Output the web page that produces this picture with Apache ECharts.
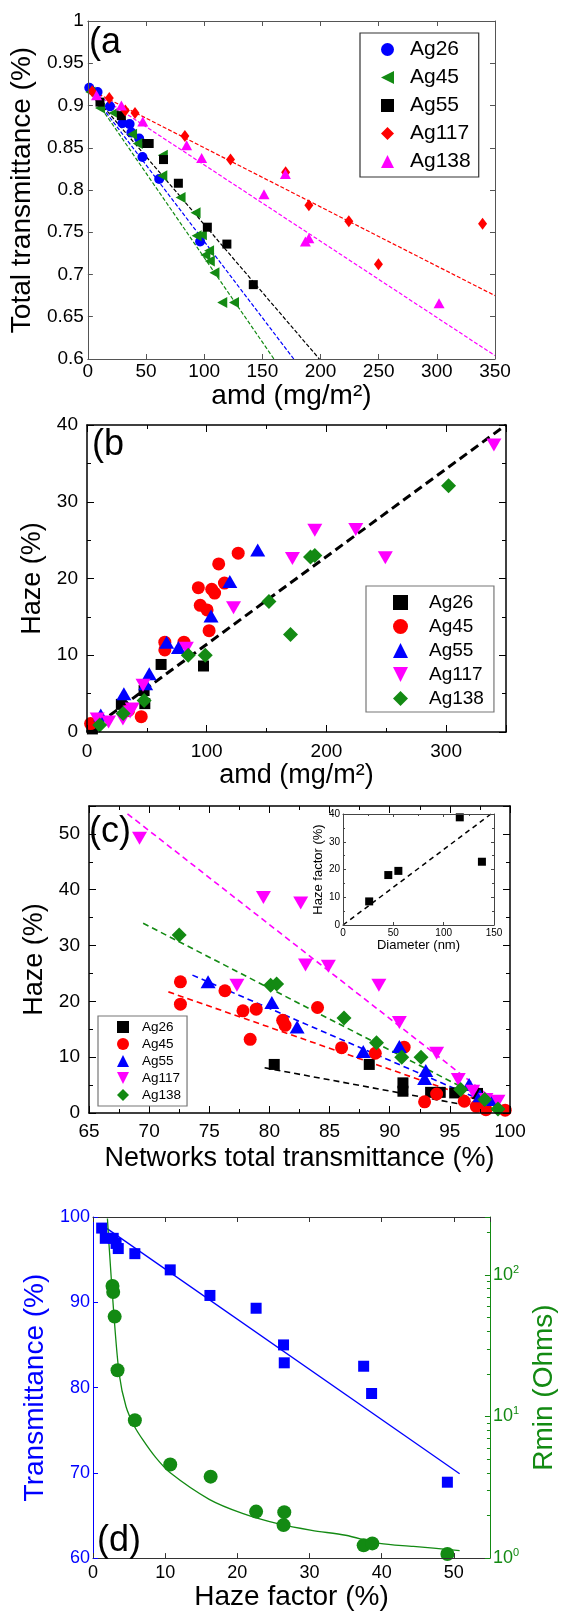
<!DOCTYPE html>
<html><head><meta charset="utf-8">
<script src="https://cdn.jsdelivr.net/npm/echarts@6/dist/echarts.min.js"></script>
<style>html,body{margin:0;padding:0;background:#fff}#c{width:566px;height:1612px}</style>
</head><body><div id="c"></div>
<script>
// ---------------- Panel (a): [amd (mg/m²), total transmittance] ----------------
const a_Ag26  = [[1.2,0.921],[8.3,0.916],[19,0.899],[29.7,0.879],[35.9,0.878],[37.4,0.868],[44.1,0.861],[46.9,0.839],[61.3,0.813],[96.5,0.739]];
const a_Ag45  = [[2.1,0.916],[10.4,0.897],[22.1,0.891],[38,0.866],[42.9,0.855],[64.4,0.841],[64,0.817],[79.7,0.791],[92.6,0.773],[93.5,0.746],[98,0.747],[101,0.723],[104.2,0.728],[104.8,0.716],[108.8,0.702],[115.5,0.667],[125.6,0.667]];
const a_Ag55  = [[10.4,0.904],[28.8,0.888],[50.6,0.855],[52.7,0.855],[65,0.836],[77.8,0.808],[102.7,0.756],[119.5,0.736],[142.2,0.688]];
const a_Ag117 = [[3.7,0.917],[18.4,0.909],[32.2,0.894],[40.5,0.891],[83.4,0.864],[122.6,0.836],[170,0.821],[190,0.782],[224.3,0.763],[249.8,0.712],[339.3,0.760]];
const a_Ag138 = [[7.4,0.912],[28.8,0.900],[47.2,0.881],[84.9,0.853],[97.8,0.838],[151.4,0.795],[169.8,0.819],[187,0.739],[190,0.743],[301.9,0.666]];
const a_fit26  = [[0,0.92],[177,0.6]];
const a_fit45  = [[0,0.92],[160,0.6]];
const a_fit55  = [[0,0.92],[199,0.6]];
const a_fit117 = [[0,0.92],[350,0.675]];
const a_fit138 = [[0,0.92],[350,0.604]];

// ---------------- Panel (b): [amd (mg/m²), haze %] ----------------
const b_Ag26  = [[4.5,0.4],[28.7,3.6],[47.7,5.4],[48.3,3.7],[61.9,8.8],[97.3,8.6]];
const b_Ag45  = [[3,1.1],[34.7,2.8],[45.3,2.0],[65,11.7],[65,10.7],[81,11.7],[93,18.8],[94.6,16.5],[100.3,15.9],[102,13.2],[104.2,18.6],[106.6,18.1],[110,21.9],[114.8,19.4],[126.3,23.3]];
const b_Ag55  = [[11.5,2.2],[30.8,5.0],[49,6.3],[52,7.6],[66.5,11.7],[76.4,11.0],[103.6,15.1],[119.3,19.6],[142.6,23.7]];
const b_Ag117 = [[8.5,1.7],[18,1.3],[30,1.7],[36,2.6],[37.8,3.0],[46.8,6.1],[83,10.9],[122.4,16.2],[171.6,22.6],[190.3,26.3],[224.5,26.4],[249.2,22.7],[339.9,37.4]];
const b_Ag138 = [[10.6,0.9],[30.2,2.4],[47.7,4.1],[84.6,10.0],[98.8,10.0],[152,17.0],[170,12.7],[186.7,22.8],[190.3,23.0],[302,32.1]];
const b_fit   = [[0,0],[350,40]];

// ---------------- Panel (c): [networks total transmittance %, haze %] ----------------
const c_Ag26  = [[80.4,8.7],[88.3,8.7],[91.1,5.4],[91.1,3.9],[93.4,3.7],[94.2,3.7],[95.4,3.6],[97.3,3.5]];
const c_Ag45  = [[72.6,23.5],[72.6,19.5],[76.3,21.9],[77.8,18.3],[78.9,18.6],[78.4,13.2],[81.1,16.6],[81.3,15.7],[84,18.9],[86,11.7],[88.8,10.7],[91.2,11.8],[92.9,2.0],[93.9,3.4],[96.2,2.1],[97.2,1.2],[98,0.6],[99.6,0.5]];
const c_Ag55  = [[74.9,23.5],[80.2,19.8],[82.3,15.4],[87.8,11.0],[90.8,11.9],[93,7.6],[92.9,6.2],[96.6,5.1],[97.5,3.1],[98.4,2.4]];
const c_Ag117 = [[69.2,49.2],[77.3,22.9],[79.5,38.6],[82.6,37.6],[83,26.5],[84.9,26.3],[89.1,22.9],[90.8,16.2],[93.9,10.7],[95.7,6.0],[96.9,3.9],[98,2.4],[99,2.1]];
const c_Ag138 = [[72.5,31.9],[80.1,22.9],[80.6,23.1],[86.2,17.0],[88.9,12.6],[91,10.0],[92.6,10.0],[95.9,4.2],[97.9,2.4],[99,0.7]];
const c_fit26  = [[79.6,8.1],[99.1,0.3]];
const c_fit45  = [[71.6,21.7],[100,0.3]];
const c_fit55  = [[73.6,24.7],[100,0.1]];
const c_fit117 = [[68.2,53.6],[100,0.1]];
const c_fit138 = [[69.5,34.0],[100,0.2]];
// inset: [diameter nm, haze factor %]
const inset_pts = [[26,8.5],[45,18],[55,19.5],[116,38.8],[138,22.8]];
const inset_fit = [[0,0],[147,40]];

// ---------------- Panel (d): haze factor % vs transmittance % and Rmin (Ohms) ----------------
const d_trans = [[1.2,98.7],[1.7,97.5],[2.8,97.5],[3.2,96.9],[3.5,96.3],[5.8,95.7],[10.7,93.8],[16.2,90.8],[22.6,89.3],[26.4,85.0],[26.5,82.9],[37.5,82.5],[38.6,79.3],[49.1,68.9]];
const d_transFit = [[1.5,98.9],[50.8,69.9]];
const d_rmin = [[2.7,83.4],[2.8,75.7],[3.0,50.7],[3.4,21.2],[5.8,9.4],[10.7,4.58],[16.3,3.76],[22.6,2.13],[26.5,2.11],[26.4,1.71],[37.5,1.23],[38.7,1.27],[49.1,1.07]];
const d_rminFit = [[2.0,250],[2.2,169],[2.83,58],[3.63,19.9],[4.58,11.7],[5.75,8.5],[6.94,6.8],[8.6,5.2],[10.7,4.0],[16.1,2.6],[20.8,2.06],[25.6,1.75],[30.3,1.57],[35,1.45],[39.7,1.27],[44.4,1.21],[50.8,1.13]];

const names = ['Ag26','Ag45','Ag55','Ag117','Ag138'];

const FF = "'Liberation Sans', Arial, Helvetica, sans-serif";
const LEFT_TRI = 'path://M0,5L10,0L10,10Z';
const DOWN_TRI = 'path://M0,0L10,0L5,10Z';
const BLUE='#0000ff', GREEN='#138a13', RED='#ff0000', MAG='#ff00ff', BLACK='#000000';

function ax(o){
  return {
    type: o.type || 'value', gridIndex: o.g, position: o.pos,
    min: o.min, max: o.max, interval: o.interval, logBase: o.logBase,
    name: o.name || '', nameLocation: 'middle', nameGap: o.nameGap || 0, nameRotate: o.nameRotate,
    nameTextStyle: {fontSize: o.nameSize || 27, fontFamily: FF, color: o.nameColor || '#000'},
    axisLine: {show: true, onZero: false, lineStyle: {color: o.lc || '#000', width: o.lw || 1}},
    axisTick: {show: true, inside: true, length: o.tl || 5, lineStyle: {color: o.tc || o.lc || '#000', width: 1}},
    minorTick: {show: !!o.minor, splitNumber: o.minor || 5, length: o.mtl || 3, lineStyle: {color: o.tc || o.lc || '#000', width: 1}},
    splitLine: {show: false}, minorSplitLine: {show: false},
    axisLabel: {show: o.label !== false, fontSize: o.fs || 19, fontFamily: FF, color: o.labColor || '#000', margin: o.margin || 4,
      formatter: o.formatter, rich: o.rich, showMinLabel: true, showMaxLabel: o.noMax ? false : true},
    z: 5
  };
}

const grids = [
  {left: 82, top: 21, width: 413, height: 338},
  {left: 87, top: 425, width: 419, height: 307},
  {left: 89, top: 806, width: 421, height: 307},
  {left: 343, top: 814, width: 151, height: 111},
  {left: 93, top: 1217, width: 421, height: 346}
];

const GA = '#555';
const xAxes = [
  ax({g:0,pos:'bottom',min:0,max:350,interval:50,lc:GA,tl:5,fs:19,margin:3,name:'amd (mg/m²)',nameGap:23,nameSize:28}),
  ax({g:0,pos:'top',min:0,max:350,interval:50,lc:GA,tl:5,label:false}),
  ax({g:1,pos:'bottom',min:0,max:350,interval:100,lw:1.5,tl:7,minor:2,mtl:4,fs:19,margin:10,noMax:true,name:'amd (mg/m²)',nameGap:30}),
  ax({g:1,pos:'top',min:0,max:350,interval:100,lw:1.5,tl:7,minor:2,mtl:4,label:false}),
  ax({g:2,pos:'bottom',min:65,max:100,interval:5,lw:1.5,tl:7,minor:2,mtl:4,fs:19,margin:9,name:'Networks total transmittance (%)',nameGap:32}),
  ax({g:2,pos:'top',min:65,max:100,interval:5,lw:1.5,tl:7,minor:2,mtl:4,label:false}),
  ax({g:3,pos:'bottom',min:0,max:150,interval:50,lc:'#444',tl:3,fs:10,margin:3,name:'Diameter (nm)',nameGap:13,nameSize:13}),
  ax({g:3,pos:'top',min:0,max:150,interval:50,lc:'#444',tl:3,minor:2,mtl:2,label:false}),
  ax({g:4,pos:'bottom',min:0,max:55,interval:10,lc:'#333',tl:5,fs:18,margin:6,noMax:true,name:'Haze factor (%)',nameGap:19,nameSize:28}),
  ax({g:4,pos:'top',min:0,max:55,interval:10,lc:'#333',tl:5,label:false})
];
const yAxes = [
  ax({g:0,pos:'left',min:0.6,max:1,interval:0.05,lc:GA,tl:5,fs:19,margin:4,name:'Total transmittance (%)',nameGap:44,nameSize:28}),
  ax({g:0,pos:'right',min:0.6,max:1,interval:0.05,lc:GA,tl:5,label:false}),
  ax({g:1,pos:'left',min:0,max:40,interval:10,lw:1.5,tl:7,minor:2,mtl:4,fs:19,margin:9,name:'Haze (%)',nameGap:36}),
  ax({g:1,pos:'right',min:0,max:40,interval:10,lw:1.5,tl:7,minor:2,mtl:4,label:false}),
  ax({g:2,pos:'left',min:0,max:55,interval:10,lw:1.5,tl:7,minor:2,mtl:4,fs:19,margin:9,noMax:true,name:'Haze (%)',nameGap:36}),
  ax({g:2,pos:'right',min:0,max:55,interval:10,lw:1.5,tl:7,minor:2,mtl:4,label:false}),
  ax({g:3,pos:'left',min:0,max:40,interval:10,lc:'#444',tl:3,minor:2,mtl:2,fs:10,margin:3,name:'Haze factor (%)',nameGap:16,nameSize:13}),
  ax({g:3,pos:'right',min:0,max:40,interval:10,lc:'#444',tl:3,minor:2,mtl:2,label:false}),
  ax({g:4,pos:'left',min:60,max:100,interval:10,lc:BLUE,tl:5,fs:18,margin:3,labColor:BLUE,name:'Transmittance (%)',nameGap:44,nameSize:28,nameColor:BLUE}),
  ax({g:4,pos:'right',type:'log',logBase:10,min:1,max:256,lc:GREEN,tl:5,minor:9,mtl:3,fs:18,margin:3,labColor:GREEN,
      name:'Rmin (Ohms)',nameGap:24,nameSize:28,nameColor:GREEN,nameRotate:90,
      formatter: v => { const e = Math.round(Math.log10(v)); if (Math.abs(Math.pow(10,e)-v) > 1e-6) return ''; return '{b|10}{s|' + e + '}'; },
      rich: {b:{fontSize:18,fontFamily:FF,color:GREEN}, s:{fontSize:11,fontFamily:FF,color:GREEN,verticalAlign:'top',padding:[0,0,10,0]}}})
];

function sc(name, data, gi, yi, symbol, size, color, z){
  return {name, type:'scatter', xAxisIndex:gi, yAxisIndex:yi, data, symbol, symbolSize:size, itemStyle:{color, opacity:1}, z: z||3, silent:true};
}
function fit(data, xi, yi, color, width, dash){
  return {type:'line', xAxisIndex:xi, yAxisIndex:yi, data, symbol:'none', showSymbol:false, silent:true, z:2,
    lineStyle:{color, width, type: dash || 'solid'}};
}

const series = [
  // (a)
  fit(a_fit45,0,0,GREEN,1.2,[4,2]), fit(a_fit26,0,0,BLUE,1.2,[4,2]), fit(a_fit55,0,0,BLACK,1.2,[4,2]),
  fit(a_fit117,0,0,RED,1.2,[4,2]), fit(a_fit138,0,0,MAG,1.2,[4,2]),
  sc('a:Ag26', a_Ag26, 0,0,'circle',10,BLUE),
  sc('a:Ag45', a_Ag45, 0,0,LEFT_TRI,[10,11],GREEN),
  sc('a:Ag55', a_Ag55, 0,0,'rect',9,BLACK),
  sc('a:Ag117',a_Ag117,0,0,'diamond',[9,12],RED),
  sc('a:Ag138',a_Ag138,0,0,'triangle',[11,10],MAG),
  // (b)
  fit(b_fit,2,2,BLACK,3,[9,5]),
  sc('b:Ag26', b_Ag26, 2,2,'rect',11,BLACK),
  sc('b:Ag45', b_Ag45, 2,2,'circle',13,RED),
  sc('b:Ag55', b_Ag55, 2,2,'triangle',[15,13],BLUE),
  sc('b:Ag117',b_Ag117,2,2,DOWN_TRI,[15,13],MAG),
  sc('b:Ag138',b_Ag138,2,2,'diamond',[15,15],GREEN),
  // (c)
  fit(c_fit26,4,4,BLACK,1.6,[6,4]), fit(c_fit45,4,4,RED,1.6,[6,4]), fit(c_fit55,4,4,BLUE,1.6,[6,4]),
  fit(c_fit117,4,4,MAG,1.6,[6,4]), fit(c_fit138,4,4,GREEN,1.6,[6,4]),
  sc('c:Ag26', c_Ag26, 4,4,'rect',11,BLACK),
  sc('c:Ag45', c_Ag45, 4,4,'circle',13,RED),
  sc('c:Ag55', c_Ag55, 4,4,'triangle',[15,13],BLUE),
  sc('c:Ag117',c_Ag117,4,4,DOWN_TRI,[15,13],MAG),
  sc('c:Ag138',c_Ag138,4,4,'diamond',[15,15],GREEN),
  // inset
  fit(inset_fit,6,6,BLACK,1.5,[5,4]),
  sc('inset', inset_pts, 6,6,'rect',8,BLACK),
  // (d)
  fit(d_transFit,8,8,BLUE,1.3),
  {type:'line', xAxisIndex:8, yAxisIndex:9, data:d_rminFit, symbol:'none', smooth:0.3, silent:true, z:2, lineStyle:{color:GREEN,width:1.3}},
  sc('d:trans', d_trans, 8,8,'rect',11,BLUE),
  sc('d:rmin', d_rmin, 8,9,'circle',14,GREEN)
];

function leg(prefix, icons, cfg){
  return Object.assign({
    orient:'vertical', borderColor:'#333', borderWidth:1.2, backgroundColor:'#fff',
    selectedMode:false, z:10,
    data: names.map((n,i) => ({name: prefix + n, icon: icons[i]})),
    formatter: n => n.split(':')[1]
  }, cfg);
}

const option = {
  animation: false,
  backgroundColor: '#fff',
  grid: grids,
  xAxis: xAxes,
  yAxis: yAxes,
  series,
  legend: [
    leg('a:', ['circle', LEFT_TRI, 'rect', 'diamond', 'triangle'],
      {left:360, top:33, padding:[6,8,5,21], itemGap:7, itemWidth:13, itemHeight:13,
       textStyle:{fontSize:21, fontFamily:FF, color:'#000', padding:[0,0,0,11]}}),
    leg('b:', ['rect','circle','triangle',DOWN_TRI,'diamond'],
      {left:366, top:586, padding:[7,10,4,27], itemGap:5, itemWidth:15, itemHeight:15, borderColor:'#777',
       textStyle:{fontSize:19, fontFamily:FF, color:'#000', padding:[0,0,0,16]}}),
    leg('c:', ['rect','circle','triangle',DOWN_TRI,'diamond'],
      {left:98, top:1016, padding:[4,6,4,19], itemGap:3, itemWidth:12, itemHeight:12, borderColor:'#777',
       textStyle:{fontSize:13.5, fontFamily:FF, color:'#000', padding:[0,0,0,8]}})
  ],
  graphic: [
    {type:'text', left:89, top:25, z:20, style:{text:'(a', fontSize:36, fontFamily:FF, fill:'#000'}},
    {type:'text', left:92, top:427, z:20, style:{text:'(b', fontSize:36, fontFamily:FF, fill:'#000'}},
    {type:'text', left:89, top:814, z:20, style:{text:'(c)', fontSize:36, fontFamily:FF, fill:'#000'}},
    {type:'text', left:97, top:1523, z:20, style:{text:'(d)', fontSize:36, fontFamily:FF, fill:'#000'}}
  ]
};

const chart = echarts.init(document.getElementById('c'), null, {renderer:'canvas'});
chart.setOption(option);
</script>
</body></html>
